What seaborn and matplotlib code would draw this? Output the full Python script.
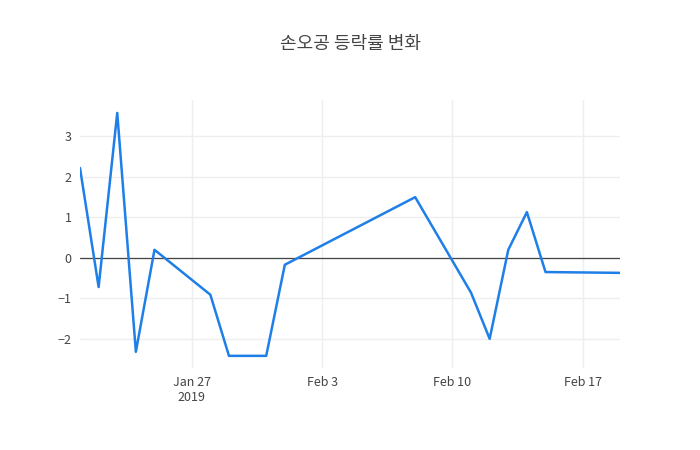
import matplotlib
matplotlib.use("Agg")
import matplotlib.pyplot as plt
import matplotlib.dates as mdates
import seaborn as sns
import pandas as pd

dates = ["2019-01-21","2019-01-22","2019-01-23","2019-01-24","2019-01-25","2019-01-28",
         "2019-01-29","2019-01-31","2019-02-01","2019-02-08","2019-02-11","2019-02-12",
         "2019-02-13","2019-02-14","2019-02-15","2019-02-19"]
changes = [2.22,-0.72,3.58,-2.32,0.2,-0.91,-2.42,-2.42,-0.17,1.5,-0.86,-2.0,0.2,1.13,-0.35,-0.37]

sns.set_style("white")
plt.rcParams['font.family'] = ['Noto Sans CJK KR', 'DejaVu Sans']
plt.rcParams['axes.unicode_minus'] = True

df = pd.DataFrame({"date": pd.to_datetime(dates), "chg": changes})
fig = plt.figure(figsize=(7, 4.5), dpi=100)
ax = fig.add_axes([80/700, 1-368/450, 540/700, 268/450])
sns.lineplot(data=df, x="date", y="chg", ax=ax, color="#1f7fe8", linewidth=1.8)
ax.axhline(0, color="#444444", linewidth=0.9, zorder=1)
ax.set_xlim(pd.Timestamp("2019-01-21"), pd.Timestamp("2019-02-19"))
ax.set_ylim(-2.72, 3.9)
ax.set_yticks([-2,-1,0,1,2,3])
ax.set_yticklabels(["−2","−1","0","1","2","3"])
ticks = pd.to_datetime(["2019-01-27","2019-02-03","2019-02-10","2019-02-17"])
ax.set_xticks(ticks)
ax.set_xticklabels(["Jan 27\n2019","Feb 3","Feb 10","Feb 17"])
ax.grid(True, color="#eeeeee", linewidth=1)
for s in ax.spines.values():
    s.set_visible(False)
ax.tick_params(length=0, labelsize=9, colors="#444444", pad=6)
ax.set_xlabel(""); ax.set_ylabel("")
fig.text(0.5, 1-44/450, "손오공 등락률 변화", ha="center", va="center", fontsize=13, color="#444444")
fig.savefig("out.png", dpi=100)
